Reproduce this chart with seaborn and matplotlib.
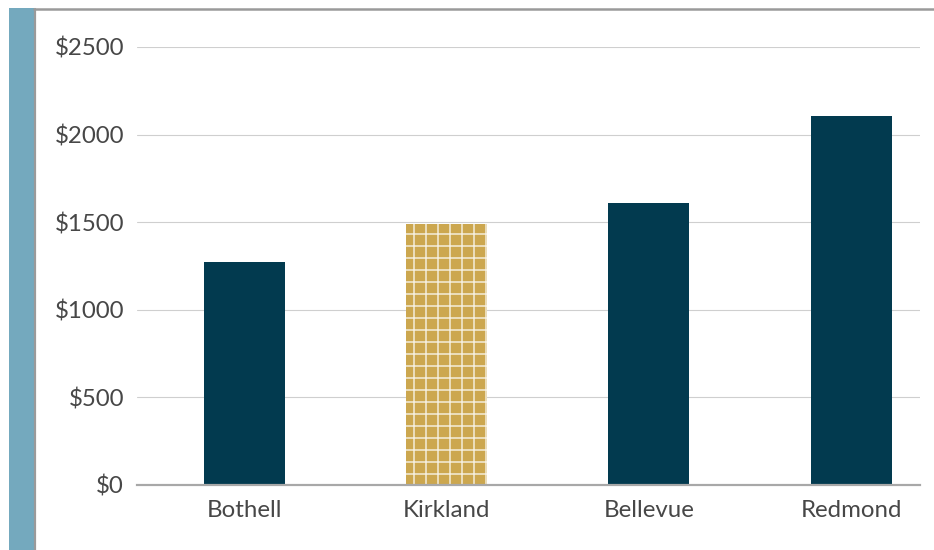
import matplotlib
matplotlib.use("Agg")
import matplotlib.pyplot as plt
import seaborn as sns
import pandas as pd
from matplotlib.patches import Rectangle
from matplotlib.lines import Line2D

cities = ["Bothell", "Kirkland", "Bellevue", "Redmond"]
values = [1270, 1490, 1610, 2105]
y_ticks = [0, 500, 1000, 1500, 2000, 2500]
y_tick_labels = ["$0", "$500", "$1000", "$1500", "$2000", "$2500"]
colors = ["#023A4F", "#CCA74F", "#023A4F", "#023A4F"]

sns.set_theme(style="white")
plt.rcParams['font.family'] = ['Lato', 'DejaVu Sans']
plt.rcParams['hatch.linewidth'] = 1.5

DPI = 72
fig = plt.figure(figsize=(934 / DPI, 550 / DPI), dpi=DPI)
W, H = 934, 550

# decorative left band and frame lines
fig.add_artist(Rectangle((9 / W, 0), 25 / W, (550 - 8) / H, transform=fig.transFigure,
                         facecolor="#74A9BE", edgecolor="none"))
fig.add_artist(Line2D([35 / W, 35 / W], [0, (550 - 9) / H], transform=fig.transFigure,
                      color="#9A9A9A", linewidth=2.2))
fig.add_artist(Line2D([34 / W, 1], [(550 - 9) / H, (550 - 9) / H], transform=fig.transFigure,
                      color="#9A9A9A", linewidth=2.5))

ax = fig.add_axes([137 / W, (550 - 485) / H, (920 - 137) / W, (485 - 47) / H])

df = pd.DataFrame({"city": cities, "value": values})
sns.barplot(data=df, x="city", y="value", hue="city", palette=colors, legend=False,
            width=0.4, ax=ax, saturation=1)

for i, p in enumerate(ax.patches):
    p.set_linewidth(0)
    if cities[i] == "Kirkland":
        p.set_hatch("+")
        p.set_edgecolor((1, 1, 1, 0.8))

ax.set_xlim(-0.53, 3.34)
ax.set_ylim(0, 2500)
ax.set_yticks(y_ticks)
ax.set_yticklabels(y_tick_labels)
ax.set_xlabel("")
ax.set_ylabel("")
for s in ["top", "right", "left"]:
    ax.spines[s].set_visible(False)
ax.spines["bottom"].set_color("#A8A8A8")
ax.spines["bottom"].set_linewidth(2.2)
ax.spines["bottom"].set_zorder(5)
ax.yaxis.grid(True, color="#CFCFCF", linewidth=1.1)
ax.set_axisbelow(True)
ax.tick_params(axis="y", length=0, pad=13, labelsize=24, labelcolor="#474747")
ax.tick_params(axis="x", length=0, pad=15, labelsize=24, labelcolor="#474747")

fig.savefig("out.png", dpi=DPI)
